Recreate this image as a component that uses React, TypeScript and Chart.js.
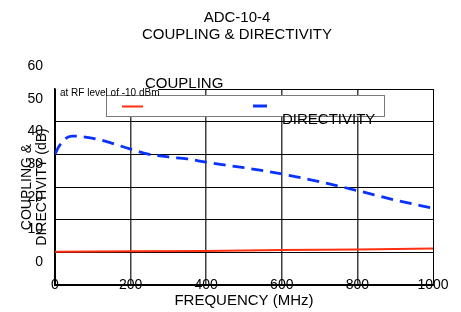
import React, { useEffect, useRef } from 'react';
import { Chart, registerables } from 'chart.js';

Chart.register(...registerables);

// ---- data ----
const chartTitle = ['ADC-10-4', 'COUPLING & DIRECTIVITY'];
const xAxisTitle = 'FREQUENCY (MHz)';
const yAxisTitle = ['COUPLING &', 'DIRECTIVITY (dB)'];
const noteText = 'at RF level of -10 dBm';
const xTickValues = [0, 200, 400, 600, 800, 1000];
const yTickValues = [0, 10, 20, 30, 40, 50, 60];

const couplingLabel = 'COUPLING';
const couplingFreq = [0, 200, 400, 600, 800, 1000];
const couplingDb = [10.2, 10.3, 10.4, 10.7, 10.9, 11.2];

const directivityLabel = 'DIRECTIVITY';
const directivityFreq = [0, 10, 25, 45, 80, 120, 200, 250, 300, 350, 400, 500, 600, 700, 800, 900, 1000];
const directivityDb = [40.0, 42.3, 44.6, 45.6, 45.3, 44.4, 41.6, 40.0, 39.2, 38.6, 37.6, 35.9, 34.0, 31.6, 28.9, 26.0, 23.5];

const FONT = "'Liberation Sans', Arial, Helvetica, sans-serif";

const oddLegend = {
  id: 'oddLegend',
  afterDraw(chart: any) {
    const { ctx, chartArea: a } = chart;
    const ds = chart.data.datasets;
    ctx.save();
    // box
    ctx.fillStyle = '#ffffff';
    ctx.fillRect(a.left + 51, a.top + 6.5, 279, 21.5);
    ctx.strokeStyle = '#7a7a7a';
    ctx.lineWidth = 1;
    ctx.strokeRect(a.left + 51.5, a.top + 6.5, 278, 21);
    // white patch behind note
    ctx.fillStyle = '#ffffff';
    ctx.fillRect(a.left + 1, a.top - 2.5, 102, 8.5);
    ctx.fillStyle = '#000';
    ctx.font = `10px ${FONT}`;
    ctx.textBaseline = 'middle';
    ctx.textAlign = 'left';
    ctx.fillText(noteText, a.left + 5, a.top + 4.5);
    // legend samples
    ctx.lineCap = 'butt';
    ctx.strokeStyle = ds[0].borderColor;
    ctx.lineWidth = 2;
    ctx.beginPath();
    ctx.moveTo(a.left + 67, a.top + 17.5);
    ctx.lineTo(a.left + 88, a.top + 17.5);
    ctx.stroke();
    ctx.strokeStyle = ds[1].borderColor;
    ctx.lineWidth = 3;
    ctx.beginPath();
    ctx.moveTo(a.left + 198, a.top + 17);
    ctx.lineTo(a.left + 212, a.top + 17);
    ctx.stroke();
    // labels
    ctx.font = `15px ${FONT}`;
    ctx.fillStyle = '#000';
    ctx.fillText(ds[0].label, a.left + 90, a.top - 5);
    ctx.fillText(ds[1].label, a.left + 227, a.top + 31);
    ctx.restore();
  },
};

export default function App() {
  const ref = useRef<HTMLCanvasElement>(null);
  useEffect(() => {
    Chart.defaults.font.family = FONT;
    Chart.defaults.color = '#000';
    const chart = new Chart(ref.current as HTMLCanvasElement, {
      type: 'line',
      data: {
        datasets: [
          {
            label: couplingLabel,
            data: couplingFreq.map((f, i) => ({ x: f, y: couplingDb[i] })),
            borderColor: '#ff3010',
            borderWidth: 2,
            pointRadius: 0,
            tension: 0,
          },
          {
            label: directivityLabel,
            data: directivityFreq.map((f, i) => ({ x: f, y: directivityDb[i] })),
            borderColor: '#0a32ff',
            borderWidth: 2.8,
            borderDash: [12, 7],
            pointRadius: 0,
            cubicInterpolationMode: 'monotone',
          },
        ],
      },
      options: {
        responsive: false,
        animation: false,
        devicePixelRatio: 1,
        layout: { padding: { left: 26, right: 13, top: 0, bottom: 0 } },
        plugins: {
          legend: { display: false },
          tooltip: { enabled: false },
          title: {
            display: true,
            text: chartTitle,
            color: '#000',
            font: { size: 15, weight: 'normal', lineHeight: 17 / 15 },
            padding: { top: 9.5, bottom: 45.5 },
          },
        },
        scales: {
          x: {
            type: 'linear',
            min: 0,
            max: 1000,
            afterBuildTicks: (s: any) => {
              s.ticks = xTickValues.map((v) => ({ value: v }));
            },
            afterFit: (s: any) => {
              s.height = 27;
            },
            ticks: {
              autoSkip: false,
              maxRotation: 0,
              mirror: true,
              padding: -8.4,
              color: '#000',
              font: { size: 14 },
              callback: (v: any) => String(v),
            },
            grid: {
              drawTicks: false,
              color: (c: any) => (c.tick && (c.tick.value === 0 || c.tick.value === 1000) ? '#000' : '#404040'),
              lineWidth: (c: any) => (c.tick && (c.tick.value === 0 || c.tick.value === 1000) ? 1 : 1.5),
            },
            border: { color: '#000', width: 2 },
            title: {
              display: true,
              text: xAxisTitle,
              color: '#000',
              font: { size: 15 },
              padding: { top: 0, bottom: 2.5 },
            },
          },
          y: {
            type: 'linear',
            position: 'left',
            min: 0,
            max: 60,
            afterBuildTicks: (s: any) => {
              s.ticks = yTickValues.map((v) => ({ value: v }));
            },
            afterFit: (s: any) => {
              s.width = 29;
            },
            ticks: {
              padding: 12,
              labelOffset: -23,
              color: '#000',
              font: { size: 14 },
            },
            grid: { drawTicks: false, color: '#000', lineWidth: 1 },
            border: { color: '#000', width: 1.5 },
            title: {
              display: true,
              text: yAxisTitle,
              color: '#000',
              font: { size: 14, lineHeight: 1.1 },
              padding: { top: -6.7, bottom: 0 },
            },
          },
          yRight: {
            type: 'linear',
            position: 'right',
            min: 0,
            max: 60,
            afterFit: (s: any) => {
              s.width = 15;
            },
            ticks: { display: false },
            grid: { display: false, drawTicks: false },
            border: { display: false },
          },
        },
      },
      plugins: [oddLegend],
    } as any);
    return () => chart.destroy();
  }, []);
  return (
    <canvas
      ref={ref}
      width={461}
      height={312}
      style={{ position: 'fixed', left: 0, top: 0, width: 461, height: 312 }}
    />
  );
}
